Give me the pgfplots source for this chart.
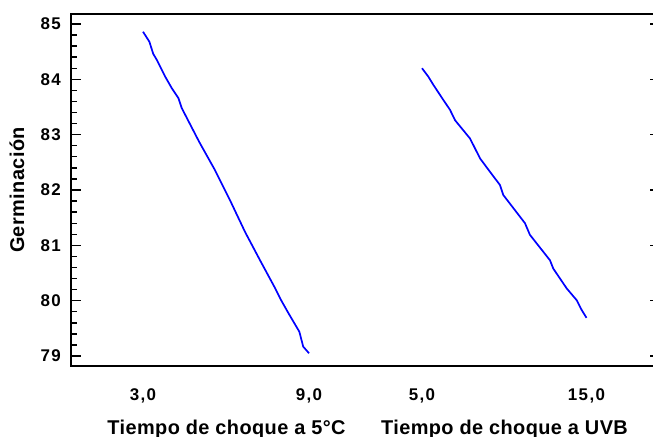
\documentclass[border=0pt]{standalone}
\usepackage{fontspec}
\setmainfont{Liberation Sans}
\usepackage{pgfplots}
\usepackage{pgfplotstable}
\pgfplotsset{compat=1.18}

\definecolor{effblue}{RGB}{0,0,255}

% Main effect of the 5 C shock time on germination
\pgfplotstableread{
t     g
3.00  84.86
3.23  84.68
3.37  84.46
3.50  84.35
3.80  84.05
4.04  83.84
4.28  83.66
4.40  83.48
5.03  82.87
5.60  82.36
6.14  81.82
6.69  81.24
7.23  80.73
7.77  80.23
7.99  80.01
8.25  79.78
8.65  79.44
8.79  79.17
9.00  79.05
}\tablefrio

% Main effect of the UVB shock time on germination
\pgfplotstableread{
t      g
5.00   84.20
5.38   84.05
5.69   83.90
6.29   83.63
6.70   83.45
7.01   83.26
7.92   82.93
8.53   82.57
9.13   82.33
9.74   82.09
9.94   81.91
11.26  81.40
11.56  81.19
12.78  80.73
12.98  80.58
13.80  80.22
14.40  80.01
14.71  79.83
15.00  79.69
}\tablauvb

\newcommand{\ticklabelfont}{\fontsize{17}{17}\selectfont\bfseries\addfontfeatures{LetterSpace=8}}
\newcommand{\labelfont}{\fontsize{20}{20}\selectfont\bfseries\addfontfeatures{LetterSpace=2}}

\begin{document}
\begin{tikzpicture}
\useasboundingbox (0,0) rectangle (653bp,437bp);
\begin{axis}[
  at={(71bp,71bp)}, anchor=south west,
  scale only axis, width=583.5bp, height=352bp,
  xmin=71, xmax=654.5, ymin=78.82, ymax=85.18,
  axis line style={line width=2.5bp},
  xtick={143,309,422,586.5},
  xticklabels={{3,0},{9,0},{5,0},{15,0}},
  x tick style={draw=none},
  xticklabel style={anchor=north, yshift=-22bp, inner sep=0pt},
  ytick={79,80,81,82,83,84,85},
  yticklabels={79,80,81,82,83,84,85},
  yticklabel style={anchor=east, xshift=-10bp, inner sep=0pt},
  ytick pos=left,
  minor y tick num=4,
  tick align=inside,
  major tick length=10bp,
  minor tick length=6bp,
  y tick style={line width=1.4bp, black},
  tick label style={font=\ticklabelfont},
  clip=false,
]
\addplot[effblue, line width=1.7bp] table[x expr=143+27.67*(\thisrow{t}-3), y=g] {\tablefrio};
\addplot[effblue, line width=1.7bp] table[x expr=422+16.45*(\thisrow{t}-5), y=g] {\tablauvb};
\end{axis}
% short inward ticks on the right edge
\begin{axis}[
  at={(71bp,71bp)}, anchor=south west,
  scale only axis, width=583.5bp, height=352bp,
  xmin=71, xmax=654.5, ymin=78.82, ymax=85.18,
  axis x line=none,
  axis y line*=right,
  y axis line style={draw=none},
  ytick={79,80,81,82,83,84,85},
  yticklabels={},
  tick align=inside,
  major tick length=5bp,
  y tick style={line width=1.4bp, black},
]
\end{axis}
\node[rotate=90, anchor=base, font=\labelfont] at (24bp,247bp) {Germinación};
\node[anchor=base, font=\labelfont] at (226.5bp,3bp) {Tiempo de choque a 5°C};
\node[anchor=base, font=\labelfont] at (504.5bp,3bp) {Tiempo de choque a UVB};
\end{tikzpicture}
\end{document}
